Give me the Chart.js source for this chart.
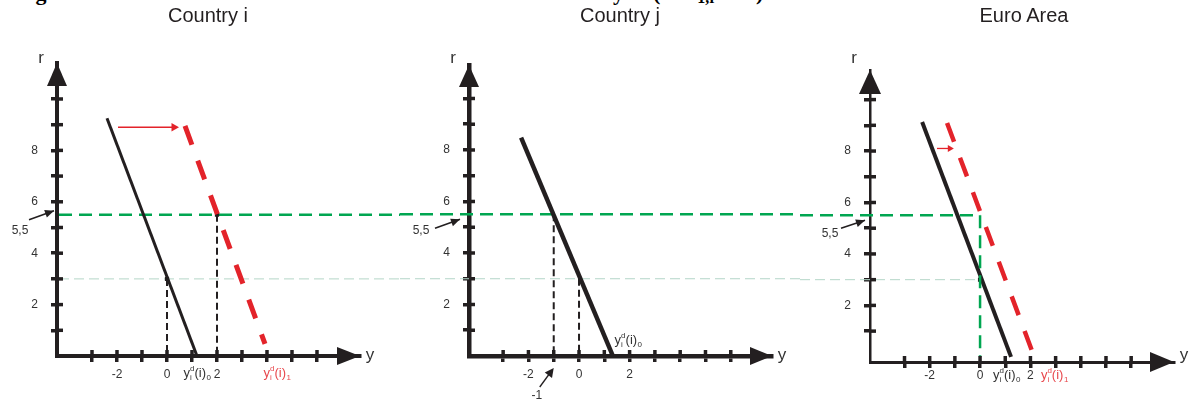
<!DOCTYPE html>
<html>
<head>
<meta charset="utf-8">
<title>Country i, Country j, Euro Area</title>
<script src="https://cdn.jsdelivr.net/npm/chart.js@4/dist/chart.umd.min.js"></script>
<style>
    body { margin: 0; background: #fff; font-family: "Liberation Sans", Arial, sans-serif; color: #231f20; }
    .page { position: relative; width: 1194px; height: 404px; overflow: hidden; }
    .panel { position: absolute; top: 0; height: 404px; }
    .title { position: absolute; top: 5px; font-size: 20px; line-height: 20px; transform: translateX(-50%); white-space: nowrap; color: #231f20; }
    .cut { position: absolute; top: -18px; font: bold 22px "Liberation Serif", "Times New Roman", serif; line-height: 22px; white-space: nowrap; color: #000; }
    .cut.sub { top: -10px; font-size: 16px; line-height: 16px; }
</style>
</head>
<body>
<div class="page">
    <div class="cut" style="left:16px">Fig</div>
    <div class="cut" style="left:613px">y</div>
    <div class="cut" style="left:653px">(</div>
    <div class="cut sub" style="left:692px">-1,r</div>
    <div class="cut" style="left:756px">)</div>

    <div class="panel" style="left:0;width:400px"><canvas id="country-i"></canvas></div>
    <div class="panel" style="left:400px;width:400px"><canvas id="country-j"></canvas></div>
    <div class="panel" style="left:800px;width:394px"><canvas id="euro-area"></canvas></div>

    <div class="title" style="left:208px">Country i</div>
    <div class="title" style="left:620px">Country j</div>
    <div class="title" style="left:1024px">Euro Area</div>
</div>

<script>
var BLACK = '#231f20';
var TEXT = '#333333';
var RED = '#e3232a';
var RED_TEXT = '#e8474c';
var GREEN = '#00a651';
var PALE = '#b4d6c8';
var FONT = '"Liberation Sans", Arial, sans-serif';

// axis ticks (output y on the horizontal axis, rate r on the vertical one)
var yTicks = [-3, -2, -1, 0, 1, 2, 3, 4, 5, 6];
var yTickLabels = [-2, 0, 2];
var rTicks = [1, 2, 3, 4, 5, 6, 7, 8, 9, 10];
var rTickLabels = [2, 4, 6, 8];

var rStart = 3;
var rAfter = 5.5;

// Country i
var iBeforeY = [-2.4, 1.2];
var iBeforeR = [9.25, 0];
var iAfterY = [0.72, 3.92];
var iAfterR = [8.95, 0.47];
var iOutput = [0, 2];
var iShiftY = [-1.96, 0.28];
var iShiftR = [8.9, 8.9];

// Country j
var jBeforeY = [-2.29, 1.34];
var jBeforeR = [8.48, 0];
var jOutput = [0, -1];

// Euro Area
var euBeforeY = [-2.3, 1.23];
var euBeforeR = [9.13, 0];
var euAfterY = [-1.31, 2.15];
var euAfterR = [9.09, 0];
var euOutput = [0];
var euShiftY = [-1.71, -1.2];
var euShiftR = [8.1, 8.1];

function punti(xs, rs) {
    return xs.map(function (v, k) {
        return { x: v, y: rs[k] };
    });
}

function linea(xs, rs, color, width, dash) {
    return {
        data: punti(xs, rs),
        showLine: true,
        borderColor: color,
        borderWidth: width,
        borderDash: dash || [],
        pointRadius: 0
    };
}

function freccia(xs, rs, color, head) {
    return {
        data: punti(xs, rs),
        showLine: true,
        borderColor: color,
        borderWidth: 1.3,
        pointRadius: [0, head],
        pointStyle: 'triangle',
        pointRotation: 90,
        pointBackgroundColor: color,
        pointBorderColor: color,
        pointBorderWidth: 0
    };
}

function pallini(xs, rs, size) {
    return {
        data: punti(xs, rs),
        showLine: false,
        pointRadius: size,
        pointStyle: 'rect',
        pointBackgroundColor: BLACK,
        pointBorderColor: BLACK,
        pointBorderWidth: 0
    };
}

function tratto(c, x0, y0, x1, y1, color, width, dash) {
    c.save();
    c.strokeStyle = color;
    c.lineWidth = width;
    c.setLineDash(dash || []);
    c.beginPath();
    c.moveTo(x0, y0);
    c.lineTo(x1, y1);
    c.stroke();
    c.restore();
}

function punta(c, x0, y0, x1, y1, len, half, color) {
    var d = Math.sqrt((x1 - x0) * (x1 - x0) + (y1 - y0) * (y1 - y0));
    var ux = (x1 - x0) / d, uy = (y1 - y0) / d;
    c.save();
    c.fillStyle = color;
    c.beginPath();
    c.moveTo(x1, y1);
    c.lineTo(x1 - ux * len - uy * half, y1 - uy * len + ux * half);
    c.lineTo(x1 - ux * len + uy * half, y1 - uy * len - ux * half);
    c.closePath();
    c.fill();
    c.restore();
}

// y with subscript i and superscript d, then (i) and a small index
function etichettaYd(c, cx, base, sub, color) {
    var big = '13px ' + FONT, small = '8px ' + FONT;
    c.save();
    c.font = big;
    var wy = c.measureText('y').width, wp = c.measureText('(i)').width;
    c.font = small;
    var wi = Math.max(c.measureText('i').width, c.measureText('d').width);
    var ws = c.measureText(sub).width;
    var x = cx - (wy + wi + wp + ws) / 2;
    c.fillStyle = color;
    c.textAlign = 'left';
    c.textBaseline = 'alphabetic';
    c.font = big;
    c.fillText('y', x, base);
    x += wy;
    c.font = small;
    c.fillText('i', x, base + 3);
    c.fillText('d', x, base - 6);
    x += wi;
    c.font = big;
    c.fillText('(i)', x, base);
    x += wp;
    c.font = small;
    c.fillText(sub, x + 0.5, base + 3);
    c.restore();
}

function decorazioni(p) {
    return {
        id: 'decor',
        beforeDatasetsDraw: function (chart) {
            var c = chart.ctx, a = chart.chartArea, sx = chart.scales.x, sy = chart.scales.y;
            p.guides.forEach(function (g) {
                var y = sy.getPixelForValue(g.r);
                var x0 = g.from === 'edge' ? 0 : a.left + 2;
                var x1 = g.to === 'edge' ? chart.width : sx.getPixelForValue(g.to);
                tratto(c, x0, y, x1, y, g.color, g.width, g.dash);
            });
        },
        afterDraw: function (chart) {
            var c = chart.ctx, a = chart.chartArea, sx = chart.scales.x, sy = chart.scales.y;
            var y0 = sy.getPixelForValue(0);

            // tick marks also go inside the axes
            sx.ticks.forEach(function (t) {
                var px = sx.getPixelForValue(t.value);
                tratto(c, px, a.bottom, px, a.bottom - 6, BLACK, p.tickWidth);
            });
            sy.ticks.forEach(function (t) {
                var py = sy.getPixelForValue(t.value);
                tratto(c, a.left, py, a.left + 6, py, BLACK, p.tickWidth);
            });

            punta(c, a.right - 20, a.bottom, a.right, a.bottom, p.arrowLen, p.arrowHalf, BLACK);
            punta(c, a.left, a.top + 20, a.left, a.top, p.arrowLen, p.arrowHalf + 1, BLACK);

            c.save();
            c.fillStyle = TEXT;
            c.textAlign = 'center';
            c.textBaseline = 'alphabetic';
            c.font = '17px ' + FONT;
            c.fillText('r', a.left - 16, 63);
            c.fillText('y', a.right + 10, y0 + 3.5);
            c.restore();

            // arrow to 5,5 on the rate axis
            var f = p.fiveFive, y55 = sy.getPixelForValue(rAfter);
            var tx = a.left + f.tail[0], ty = y55 + f.tail[1], hx = a.left + f.head[0], hy = y55 + f.head[1];
            tratto(c, tx, ty, hx, hy, BLACK, 1.6);
            punta(c, tx, ty, hx, hy, 9, 4, BLACK);
            c.save();
            c.fillStyle = TEXT;
            c.font = '12px ' + FONT;
            c.textAlign = 'center';
            c.textBaseline = 'middle';
            c.fillText('5,5', a.left + f.label[0], y55 + f.label[1]);
            c.restore();

            p.ydLabels.forEach(function (l) {
                etichettaYd(c, sx.getPixelForValue(l.y), y0 + l.dy, l.sub, l.color);
            });

            if (p.minusOne) {
                var mx = sx.getPixelForValue(p.minusOne), my = y0 + 12;
                tratto(c, mx - 14, my + 19, mx - 3, my + 4, BLACK, 1.3);
                punta(c, mx - 14, my + 19, mx, my, 9, 4.5, BLACK);
                c.save();
                c.fillStyle = TEXT;
                c.font = '12px ' + FONT;
                c.textAlign = 'center';
                c.textBaseline = 'middle';
                c.fillText('-1', mx - 17, my + 28);
                c.restore();
            }
        }
    };
}

function creaGrafico(id, p) {
    return new Chart(document.getElementById(id), {
        type: 'scatter',
        data: { datasets: p.datasets },
        options: {
            responsive: true,
            maintainAspectRatio: false,
            animation: false,
            events: [],
            layout: { padding: { left: 0, bottom: 0, top: p.top, right: p.right } },
            plugins: {
                legend: { display: false },
                tooltip: { enabled: false }
            },
            scales: {
                x: {
                    type: 'linear',
                    min: p.yMin,
                    max: p.yMax,
                    afterFit: function (s) { s.height = p.bottomBox; },
                    afterBuildTicks: function (s) {
                        s.ticks = yTicks.map(function (v) { return { value: v }; });
                    },
                    ticks: {
                        autoSkip: false,
                        maxRotation: 0,
                        padding: p.xLabelPad,
                        color: TEXT,
                        font: { size: 12, family: FONT },
                        callback: function (v) { return yTickLabels.indexOf(v) > -1 ? String(v) : ''; }
                    },
                    grid: { drawOnChartArea: false, tickLength: 6, lineWidth: p.tickWidth, color: BLACK },
                    border: { width: p.xAxisWidth, color: BLACK }
                },
                y: {
                    type: 'linear',
                    min: p.rMin,
                    max: p.rMax,
                    afterFit: function (s) { s.width = p.leftBox; },
                    afterBuildTicks: function (s) {
                        s.ticks = rTicks.map(function (v) { return { value: v }; });
                    },
                    ticks: {
                        autoSkip: false,
                        padding: 13,
                        color: TEXT,
                        font: { size: 12, family: FONT },
                        callback: function (v) { return rTickLabels.indexOf(v) > -1 ? String(v) : ''; }
                    },
                    grid: { drawOnChartArea: false, tickLength: 6, lineWidth: p.tickWidth, color: BLACK },
                    border: { width: p.rAxisWidth, color: BLACK }
                }
            }
        },
        plugins: [decorazioni(p)]
    });
}

creaGrafico('country-i', {
    leftBox: 57, right: 40, top: 63, bottomBox: 48,
    yMin: -4.4, yMax: 7.72, rMin: 0, rMax: 11.4,
    xAxisWidth: 4, rAxisWidth: 4, tickWidth: 3.5, xLabelPad: 5,
    arrowLen: 23, arrowHalf: 9,
    guides: [
        { r: rStart, from: 'axis', to: 'edge', color: PALE, width: 1, dash: [10, 5] },
        { r: rAfter, from: 'axis', to: 'edge', color: GREEN, width: 2.5, dash: [13, 7] }
    ],
    fiveFive: { tail: [-28, 5], head: [-3, -4], label: [-37, 16] },
    ydLabels: [
        { y: 1.2, dy: 21, sub: '0', color: TEXT },
        { y: 4.4, dy: 21, sub: '1', color: RED_TEXT }
    ],
    datasets: [
        linea([iOutput[0], iOutput[0]], [rStart, 0], BLACK, 2, [7, 4]),
        linea([iOutput[1], iOutput[1]], [rAfter, 0], BLACK, 2, [7, 4]),
        linea(iBeforeY, iBeforeR, BLACK, 3),
        linea(iAfterY, iAfterR, RED, 5, [20, 17]),
        freccia(iShiftY, iShiftR, RED, 5),
        pallini(iOutput, [rStart, rAfter], 3)
    ]
});

creaGrafico('country-j', {
    leftBox: 69, right: 28, top: 65, bottomBox: 48,
    yMin: -4.35, yMax: 7.63, rMin: 0, rMax: 11.3,
    xAxisWidth: 4.5, rAxisWidth: 4.5, tickWidth: 3.5, xLabelPad: 5,
    arrowLen: 22, arrowHalf: 9,
    guides: [
        { r: rStart, from: 'edge', to: 'edge', color: PALE, width: 1, dash: [10, 5] },
        { r: rAfter, from: 'edge', to: 'edge', color: GREEN, width: 2.5, dash: [13, 7] }
    ],
    fiveFive: { tail: [-34, 14], head: [-9, 5], label: [-48, 16] },
    ydLabels: [
        { y: 1.94, dy: -12, sub: '0', color: TEXT }
    ],
    minusOne: jOutput[1],
    datasets: [
        linea([jOutput[0], jOutput[0]], [rStart, 0], BLACK, 2, [7, 4]),
        linea([jOutput[1], jOutput[1]], [rAfter, 0], BLACK, 2, [7, 4]),
        linea(jBeforeY, jBeforeR, BLACK, 4.5)
    ]
});

creaGrafico('euro-area', {
    leftBox: 70, right: 20, top: 70, bottomBox: 42,
    yMin: -4.37, yMax: 7.7, rMin: -0.2, rMax: 11.15,
    xAxisWidth: 3, rAxisWidth: 2.5, tickWidth: 3.5, xLabelPad: 0,
    arrowLen: 24, arrowHalf: 10,
    guides: [
        { r: rStart, from: 'edge', to: 0, color: PALE, width: 1, dash: [10, 5] },
        { r: rAfter, from: 'edge', to: 0, color: GREEN, width: 2.5, dash: [13, 7] }
    ],
    fiveFive: { tail: [-29, 13], head: [-5, 5], label: [-40, 18] },
    ydLabels: [
        { y: 1.05, dy: 22, sub: '0', color: TEXT },
        { y: 2.95, dy: 22, sub: '1', color: RED_TEXT }
    ],
    datasets: [
        linea([euOutput[0], euOutput[0]], [rAfter, 0], GREEN, 2.5, [13, 7]),
        linea(euBeforeY, euBeforeR, BLACK, 4),
        linea(euAfterY, euAfterR, RED, 4.5, [20, 17]),
        freccia(euShiftY, euShiftR, RED, 4),
        pallini(euOutput, [rStart], 3)
    ]
});
</script>
</body>
</html>
